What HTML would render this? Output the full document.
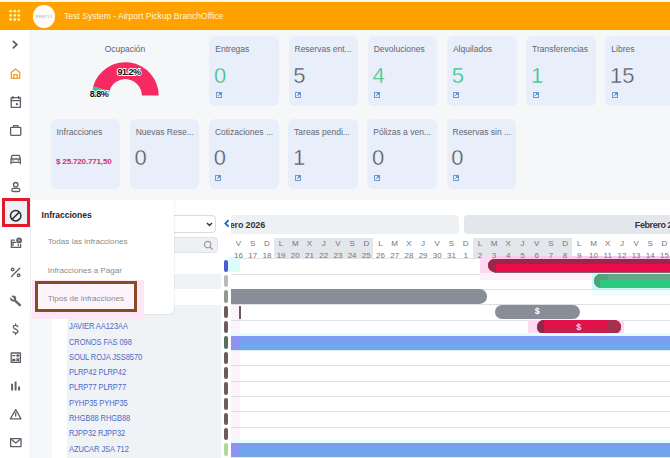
<!DOCTYPE html><html><head><meta charset="utf-8"><style>
*{margin:0;padding:0;box-sizing:border-box}
html,body{width:670px;height:458px;overflow:hidden;background:#f6f7f9;font-family:"Liberation Sans",sans-serif;position:relative}
.a{position:absolute}
.card{position:absolute;width:69.8px;height:70.3px;background:#e8eefa;border-radius:6px}
.ct{position:absolute;left:6px;top:8px;font-size:8.5px;color:#63686f;white-space:nowrap}
.cn{position:absolute;left:4.8px;top:27.6px;font-size:22px;color:#50555d;line-height:24px;-webkit-text-stroke:0.4px #e8eefa;paint-order:normal}
.cn.g{color:#2fc17a}
.ci{position:absolute;left:6.5px;top:56.2px;width:6px;height:6px}
.dl{position:absolute;width:14.2px;text-align:center;font-size:8px;color:#72767c;line-height:9px;z-index:5}
.row{position:absolute;left:231px;width:439px;height:1px;background:#dedfe2}
.nm{position:absolute;left:69px;font-size:9px;color:#4d68c8;white-space:nowrap;letter-spacing:-0.1px;transform:scaleX(0.835);transform-origin:0 0}
.pill{position:absolute;left:223.8px;width:4px;height:12.4px;border-radius:2px}
.si{position:absolute;left:0;width:30px;height:22px}
</style></head><body>
<div class="a" style="left:0;top:0;width:670px;height:2px;background:#fdf7e6"></div>
<div class="a" style="left:0;top:2px;width:670px;height:28px;background:#ffa200"></div>
<svg class="a" style="left:0;top:0" width="30" height="30"><circle cx="10.6" cy="11.2" r="1.4" fill="#ffefa6"/><circle cx="10.6" cy="15.4" r="1.4" fill="#ffefa6"/><circle cx="10.6" cy="19.5" r="1.4" fill="#ffefa6"/><circle cx="14.8" cy="11.2" r="1.4" fill="#ffefa6"/><circle cx="14.8" cy="15.4" r="1.4" fill="#ffefa6"/><circle cx="14.8" cy="19.5" r="1.4" fill="#ffefa6"/><circle cx="18.8" cy="11.2" r="1.4" fill="#ffefa6"/><circle cx="18.8" cy="15.4" r="1.4" fill="#ffefa6"/><circle cx="18.8" cy="19.5" r="1.4" fill="#ffefa6"/></svg>
<div class="a" style="left:32.7px;top:4.9px;width:22.8px;height:22.8px;border-radius:50%;background:#fffdf8"></div>
<div class="a" style="left:35px;top:14.5px;width:19px;font-size:3.4px;letter-spacing:0.75px;color:#9893b3;text-align:center">RENTLY</div>
<div class="a" style="left:64px;top:11px;font-size:8.6px;color:#fff4dc;white-space:nowrap;line-height:10px">Test System - Airport Pickup BranchOffice</div>
<div class="a" style="left:0;top:30px;width:31px;height:428px;background:#fff;border-right:1px solid #eeeff3"></div>
<div class="a" style="left:50px;top:43.5px;width:150px;text-align:center;font-size:8.5px;color:#5f646b;line-height:10px">Ocupación</div>
<svg class="a" style="left:0;top:0" width="670" height="200"><path d="M91.90 95.60 A33.4 33.4 0 0 1 93.17 86.48 L109.43 91.10 A16.5 16.5 0 0 0 108.80 95.60Z" fill="#2ec99a"/><path d="M93.17 86.48 A33.4 33.4 0 0 1 158.70 95.60 L141.80 95.60 A16.5 16.5 0 0 0 109.43 91.10Z" fill="#f52a63"/><g font-family="Liberation Sans" font-weight="bold" font-size="9" stroke="#fff" stroke-width="1.8" paint-order="stroke" fill="#111" letter-spacing="-0.5" text-anchor="middle"><text x="129" y="74.6">91.2%</text><text x="99" y="96.8">8.8%</text></g></svg>
<div class="card" style="left:209.3px;top:36px"><div class="ct">Entregas</div><div class="cn g">0</div><svg class="ci" viewBox="0 0 6 6"><rect x="0" y="0" width="6" height="6" fill="#6f9ad2"/><rect x="1" y="1" width="4" height="4" fill="#e3ecf8"/><path d="M2.2 3.8 L4.6 1.4 M3 1.2 H4.8 V3" stroke="#4d86cf" stroke-width="1" fill="none"/></svg></div>
<div class="card" style="left:288.5px;top:36px"><div class="ct">Reservas ent...</div><div class="cn">5</div><svg class="ci" viewBox="0 0 6 6"><rect x="0" y="0" width="6" height="6" fill="#6f9ad2"/><rect x="1" y="1" width="4" height="4" fill="#e3ecf8"/><path d="M2.2 3.8 L4.6 1.4 M3 1.2 H4.8 V3" stroke="#4d86cf" stroke-width="1" fill="none"/></svg></div>
<div class="card" style="left:367.7px;top:36px"><div class="ct">Devoluciones</div><div class="cn g">4</div><svg class="ci" viewBox="0 0 6 6"><rect x="0" y="0" width="6" height="6" fill="#6f9ad2"/><rect x="1" y="1" width="4" height="4" fill="#e3ecf8"/><path d="M2.2 3.8 L4.6 1.4 M3 1.2 H4.8 V3" stroke="#4d86cf" stroke-width="1" fill="none"/></svg></div>
<div class="card" style="left:446.9px;top:36px"><div class="ct">Alquilados</div><div class="cn g">5</div><svg class="ci" viewBox="0 0 6 6"><rect x="0" y="0" width="6" height="6" fill="#6f9ad2"/><rect x="1" y="1" width="4" height="4" fill="#e3ecf8"/><path d="M2.2 3.8 L4.6 1.4 M3 1.2 H4.8 V3" stroke="#4d86cf" stroke-width="1" fill="none"/></svg></div>
<div class="card" style="left:526.1px;top:36px"><div class="ct">Transferencias</div><div class="cn g">1</div><svg class="ci" viewBox="0 0 6 6"><rect x="0" y="0" width="6" height="6" fill="#6f9ad2"/><rect x="1" y="1" width="4" height="4" fill="#e3ecf8"/><path d="M2.2 3.8 L4.6 1.4 M3 1.2 H4.8 V3" stroke="#4d86cf" stroke-width="1" fill="none"/></svg></div>
<div class="card" style="left:605.3px;top:36px"><div class="ct">Libres</div><div class="cn">15</div><svg class="ci" viewBox="0 0 6 6"><rect x="0" y="0" width="6" height="6" fill="#6f9ad2"/><rect x="1" y="1" width="4" height="4" fill="#e3ecf8"/><path d="M2.2 3.8 L4.6 1.4 M3 1.2 H4.8 V3" stroke="#4d86cf" stroke-width="1" fill="none"/></svg></div>
<div class="card" style="left:50.5px;top:118.5px"><div class="ct">Infracciones</div><div class="a" style="left:5.5px;top:38.5px;font-size:8.1px;font-weight:bold;color:#d3336f;white-space:nowrap;letter-spacing:-0.2px">$ 25.720.771,50</div></div>
<div class="card" style="left:129.7px;top:118.5px"><div class="ct">Nuevas Rese...</div><div class="cn">0</div></div>
<div class="card" style="left:208.9px;top:118.5px"><div class="ct">Cotizaciones ...</div><div class="cn">0</div><svg class="ci" viewBox="0 0 6 6"><rect x="0" y="0" width="6" height="6" fill="#6f9ad2"/><rect x="1" y="1" width="4" height="4" fill="#e3ecf8"/><path d="M2.2 3.8 L4.6 1.4 M3 1.2 H4.8 V3" stroke="#4d86cf" stroke-width="1" fill="none"/></svg></div>
<div class="card" style="left:288.1px;top:118.5px"><div class="ct">Tareas pendi...</div><div class="cn">1</div><svg class="ci" viewBox="0 0 6 6"><rect x="0" y="0" width="6" height="6" fill="#6f9ad2"/><rect x="1" y="1" width="4" height="4" fill="#e3ecf8"/><path d="M2.2 3.8 L4.6 1.4 M3 1.2 H4.8 V3" stroke="#4d86cf" stroke-width="1" fill="none"/></svg></div>
<div class="card" style="left:367.3px;top:118.5px"><div class="ct">Pólizas a ven...</div><div class="cn">0</div><svg class="ci" viewBox="0 0 6 6"><rect x="0" y="0" width="6" height="6" fill="#6f9ad2"/><rect x="1" y="1" width="4" height="4" fill="#e3ecf8"/><path d="M2.2 3.8 L4.6 1.4 M3 1.2 H4.8 V3" stroke="#4d86cf" stroke-width="1" fill="none"/></svg></div>
<div class="card" style="left:446.5px;top:118.5px"><div class="ct">Reservas sin ...</div><div class="cn">0</div><svg class="ci" viewBox="0 0 6 6"><rect x="0" y="0" width="6" height="6" fill="#6f9ad2"/><rect x="1" y="1" width="4" height="4" fill="#e3ecf8"/><path d="M2.2 3.8 L4.6 1.4 M3 1.2 H4.8 V3" stroke="#4d86cf" stroke-width="1" fill="none"/></svg></div>
<div class="a" style="left:52px;top:199.5px;width:618px;height:259px;background:#fff"></div>
<div class="a" style="left:66.5px;top:274.1px;width:154px;height:15.3px;background:#f0f3f6"></div>
<div class="a" style="left:66.5px;top:304.7px;width:154px;height:153.3px;background:#f0f3f6"></div>
<div class="a" style="left:120px;top:215.4px;width:95.5px;height:18px;border:1px solid #d9dce0;border-radius:4px;background:#fff"></div>
<svg class="a" style="left:206px;top:221px" width="7" height="7" viewBox="0 0 7 7"><path d="M1 2 L3.5 4.6 L6 2" stroke="#333" stroke-width="1.4" fill="none"/></svg>
<div class="a" style="left:120px;top:236.7px;width:97.5px;height:16.6px;border:1px solid #dfe2e6;border-radius:4px;background:#eef0f3"></div>
<svg class="a" style="left:203px;top:240px" width="11" height="11" viewBox="0 0 11 11"><circle cx="4.6" cy="4.6" r="3.2" stroke="#9a9ea4" stroke-width="1.2" fill="none"/><path d="M7 7 L9.6 9.6" stroke="#9a9ea4" stroke-width="1.4"/></svg>
<svg class="a" style="left:222.5px;top:219px" width="8" height="9" viewBox="0 0 8 9"><path d="M5.6 1.2 L2.4 4.4 L5.6 7.6" stroke="#1b68cc" stroke-width="1.9" fill="none"/></svg>
<div class="a" style="left:231px;top:215px;width:227.6px;height:19px;background:#eef1f4;border-radius:0 4px 4px 0;overflow:hidden"><div class="a" style="left:-12.5px;top:4.8px;font-size:9px;font-weight:bold;color:#33363b;white-space:nowrap;line-height:10px;letter-spacing:-0.15px">Enero 2026</div></div>
<div class="a" style="left:464.3px;top:214.8px;width:210px;height:19.3px;background:#e3e6eb;border-radius:4px;overflow:hidden"><div class="a" style="left:170.5px;top:5.5px;font-size:9px;font-weight:bold;color:#33363b;white-space:nowrap;line-height:10px;letter-spacing:-0.4px">Febrero 2026</div></div>
<div class="a" style="left:274.0px;top:238px;width:99.4px;height:20.8px;background:#e3e6eb"></div>
<div class="a" style="left:472.8px;top:238px;width:99.4px;height:20.8px;background:#e3e6eb"></div>
<div class="dl" style="left:231.4px;top:239px">V</div>
<div class="dl" style="left:231.4px;top:250.5px">16</div>
<div class="dl" style="left:245.6px;top:239px">S</div>
<div class="dl" style="left:245.6px;top:250.5px">17</div>
<div class="dl" style="left:259.8px;top:239px">D</div>
<div class="dl" style="left:259.8px;top:250.5px">18</div>
<div class="dl" style="left:274.0px;top:239px">L</div>
<div class="dl" style="left:274.0px;top:250.5px">19</div>
<div class="dl" style="left:288.2px;top:239px">M</div>
<div class="dl" style="left:288.2px;top:250.5px">20</div>
<div class="dl" style="left:302.4px;top:239px">X</div>
<div class="dl" style="left:302.4px;top:250.5px">21</div>
<div class="dl" style="left:316.6px;top:239px">J</div>
<div class="dl" style="left:316.6px;top:250.5px">22</div>
<div class="dl" style="left:330.8px;top:239px">V</div>
<div class="dl" style="left:330.8px;top:250.5px">23</div>
<div class="dl" style="left:345.0px;top:239px">S</div>
<div class="dl" style="left:345.0px;top:250.5px">24</div>
<div class="dl" style="left:359.2px;top:239px">D</div>
<div class="dl" style="left:359.2px;top:250.5px">25</div>
<div class="dl" style="left:373.4px;top:239px">L</div>
<div class="dl" style="left:373.4px;top:250.5px">26</div>
<div class="dl" style="left:387.6px;top:239px">M</div>
<div class="dl" style="left:387.6px;top:250.5px">27</div>
<div class="dl" style="left:401.8px;top:239px">X</div>
<div class="dl" style="left:401.8px;top:250.5px">28</div>
<div class="dl" style="left:416.0px;top:239px">J</div>
<div class="dl" style="left:416.0px;top:250.5px">29</div>
<div class="dl" style="left:430.2px;top:239px">V</div>
<div class="dl" style="left:430.2px;top:250.5px">30</div>
<div class="dl" style="left:444.4px;top:239px">S</div>
<div class="dl" style="left:444.4px;top:250.5px">31</div>
<div class="dl" style="left:458.6px;top:239px">D</div>
<div class="dl" style="left:458.6px;top:250.5px">1</div>
<div class="dl" style="left:472.8px;top:239px">L</div>
<div class="dl" style="left:472.8px;top:250.5px">2</div>
<div class="dl" style="left:487.0px;top:239px">M</div>
<div class="dl" style="left:487.0px;top:250.5px">3</div>
<div class="dl" style="left:501.2px;top:239px">X</div>
<div class="dl" style="left:501.2px;top:250.5px">4</div>
<div class="dl" style="left:515.4px;top:239px">J</div>
<div class="dl" style="left:515.4px;top:250.5px">5</div>
<div class="dl" style="left:529.6px;top:239px">V</div>
<div class="dl" style="left:529.6px;top:250.5px">6</div>
<div class="dl" style="left:543.8px;top:239px">S</div>
<div class="dl" style="left:543.8px;top:250.5px">7</div>
<div class="dl" style="left:558.0px;top:239px">D</div>
<div class="dl" style="left:558.0px;top:250.5px">8</div>
<div class="dl" style="left:572.2px;top:239px">L</div>
<div class="dl" style="left:572.2px;top:250.5px">9</div>
<div class="dl" style="left:586.4px;top:239px">M</div>
<div class="dl" style="left:586.4px;top:250.5px">10</div>
<div class="dl" style="left:600.6px;top:239px">X</div>
<div class="dl" style="left:600.6px;top:250.5px">11</div>
<div class="dl" style="left:614.8px;top:239px">J</div>
<div class="dl" style="left:614.8px;top:250.5px">12</div>
<div class="dl" style="left:629.0px;top:239px">V</div>
<div class="dl" style="left:629.0px;top:250.5px">13</div>
<div class="dl" style="left:643.2px;top:239px">S</div>
<div class="dl" style="left:643.2px;top:250.5px">14</div>
<div class="dl" style="left:657.4px;top:239px">D</div>
<div class="dl" style="left:657.4px;top:250.5px">15</div>
<div class="row" style="top:258.3px;background:#e2e3e6"></div>
<div class="a" style="left:228px;top:257px;width:12px;height:15.3px;background:#dcfbfb"></div>
<div class="a" style="left:231px;top:304.7px;width:9px;height:15.3px;background:#fdf4fb"></div>
<div class="a" style="left:231px;top:320.0px;width:9px;height:15.3px;background:#fdf4fb"></div>
<div class="a" style="left:231px;top:350.6px;width:9px;height:15.3px;background:#fdf4fb"></div>
<div class="a" style="left:231px;top:365.9px;width:9px;height:15.3px;background:#fdf4fb"></div>
<div class="a" style="left:231px;top:381.2px;width:9px;height:15.3px;background:#fdf4fb"></div>
<div class="a" style="left:231px;top:396.5px;width:9px;height:15.3px;background:#fdf4fb"></div>
<div class="a" style="left:231px;top:411.8px;width:9px;height:15.3px;background:#fdf4fb"></div>
<div class="a" style="left:231px;top:427.1px;width:9px;height:15.3px;background:#fdf4fb"></div>
<div class="row" style="top:273.6px"></div>
<div class="row" style="top:288.9px"></div>
<div class="row" style="top:304.2px"></div>
<div class="row" style="top:319.5px"></div>
<div class="row" style="top:334.8px"></div>
<div class="row" style="top:350.1px"></div>
<div class="row" style="top:365.4px"></div>
<div class="row" style="top:380.7px"></div>
<div class="row" style="top:396.0px"></div>
<div class="row" style="top:411.3px"></div>
<div class="row" style="top:426.6px"></div>
<div class="row" style="top:441.9px"></div>
<div class="a" style="left:480px;top:256px;width:190px;height:17px;background:#fcdaf2"></div>
<div class="a" style="left:495.7px;top:256px;width:180px;height:3px;background:#fcc9ee"></div>
<div class="a" style="left:480px;top:273px;width:112px;height:7px;background:#fdf0f8"></div>
<div class="a" style="left:487.7px;top:259px;width:200px;height:13.2px;border-radius:7px;background:#e90d4c;overflow:hidden"><div class="a" style="left:0;top:0;width:200px;height:4.8px;background:#9c2649"></div><div class="a" style="left:0;top:0;width:8px;height:14px;background:#962a4a"></div></div>
<div class="a" style="left:592px;top:272.5px;width:80px;height:16px;background:#d2f9f4"></div>
<div class="a" style="left:592px;top:289.5px;width:80px;height:6px;background:#f2fefe"></div>
<div class="a" style="left:494px;top:272.1px;width:200px;height:0.8px;background:#8a6070"></div>
<div class="a" style="left:593.9px;top:273.7px;width:100px;height:14.4px;border-radius:7px;background:#2cca7e;overflow:hidden"><div class="a" style="left:0;top:0;width:100px;height:6px;background:#62a886"></div><div class="a" style="left:0;top:0;width:14px;height:6px;background:#5a9e7e"></div><div class="a" style="left:0;top:0;width:6px;height:15px;background:#52a07a"></div></div>
<div class="a" style="left:231px;top:289.3px;width:256.3px;height:14.6px;border-radius:0 7.3px 7.3px 0;background:#898d98"></div>
<div class="a" style="left:239.4px;top:305.7px;width:1.8px;height:13px;background:#6b5a60"></div>
<div class="a" style="left:494.6px;top:305px;width:85.4px;height:13.8px;border-radius:7px;background:#898d98;color:#fff;font-size:9px;font-weight:bold;text-align:center;line-height:13.8px">$</div>
<div class="a" style="left:528px;top:320px;width:96.3px;height:15px;background:#fddcf3"></div>
<div class="a" style="left:536.8px;top:320.3px;width:83.8px;height:14px;border-radius:7px;background:#c91f48;overflow:hidden"><div class="a" style="left:0;top:0;width:84px;height:7px;background:#e3104b"></div><div class="a" style="left:0;top:0;width:7px;height:14px;background:#8f2a48"></div><div class="a" style="left:71px;top:0;width:13px;height:14px;background:#a8304f"></div><div class="a" style="left:0;top:0;width:84px;height:14px;color:#ffd9ec;font-size:9px;font-weight:bold;text-align:center;line-height:14px">$</div></div>
<div class="a" style="left:231px;top:332.8px;width:439px;height:3px;background:#e2fdfd"></div>
<div class="a" style="left:231px;top:335.6px;width:439px;height:14.4px;background:#73a5ee"></div>
<div class="a" style="left:231px;top:335.6px;width:439px;height:5px;background:#7c9ef0"></div>
<div class="a" style="left:231px;top:335.6px;width:9px;height:14.4px;background:#8e93f2"></div>
<div class="a" style="left:231px;top:350.0px;width:439px;height:1px;background:#d8f0fa"></div>
<div class="a" style="left:231px;top:439.9px;width:439px;height:3px;background:#e2fdfd"></div>
<div class="a" style="left:231px;top:442.7px;width:439px;height:14.4px;background:#73a5ee"></div>
<div class="a" style="left:231px;top:442.7px;width:439px;height:5px;background:#7c9ef0"></div>
<div class="a" style="left:231px;top:442.7px;width:9px;height:14.4px;background:#8e93f2"></div>
<div class="a" style="left:231px;top:457.1px;width:439px;height:1px;background:#d8f0fa"></div>
<div class="pill" style="top:259.8px;background:#4c5bd1"></div>
<div class="pill" style="top:275.1px;background:#b9b9bb"></div>
<div class="pill" style="top:290.4px;background:#8e9c8e"></div>
<div class="pill" style="top:305.7px;background:#6d5b60"></div>
<div class="pill" style="top:321.0px;background:#6d5b60"></div>
<div class="pill" style="top:336.3px;background:#55705b"></div>
<div class="pill" style="top:351.6px;background:#6d5b60"></div>
<div class="pill" style="top:366.9px;background:#6d5b60"></div>
<div class="pill" style="top:382.2px;background:#6d5b60"></div>
<div class="pill" style="top:397.5px;background:#6d5b60"></div>
<div class="pill" style="top:412.8px;background:#6d5b60"></div>
<div class="pill" style="top:428.1px;background:#6d5b60"></div>
<div class="pill" style="top:443.4px;background:#b1d89a"></div>
<div class="nm" style="top:322.2px;line-height:9px">JAVIER AA123AA</div>
<div class="nm" style="top:337.5px;line-height:9px">CRONOS FAS 098</div>
<div class="nm" style="top:352.8px;line-height:9px">SOUL ROJA JSS8570</div>
<div class="nm" style="top:368.1px;line-height:9px">PLRP42 PLRP42</div>
<div class="nm" style="top:383.4px;line-height:9px">PLRP77 PLRP77</div>
<div class="nm" style="top:398.7px;line-height:9px">PYHP35 PYHP35</div>
<div class="nm" style="top:414.0px;line-height:9px">RHGB88 RHGB88</div>
<div class="nm" style="top:429.3px;line-height:9px">RJPP32 RJPP32</div>
<div class="nm" style="top:444.6px;line-height:9px">AZUCAR JSA 712</div>
<div class="a" style="left:31px;top:199.5px;width:143px;height:114.8px;background:#fff;border-radius:0 0 5px 0;box-shadow:0.5px 0.5px 1px rgba(0,0,0,0.05)"></div>
<div class="a" style="left:41.6px;top:209.9px;font-size:8.5px;font-weight:bold;color:#24272b;white-space:nowrap;line-height:10px">Infracciones</div>
<div class="a" style="left:47.8px;top:237px;font-size:8.1px;color:#888b90;white-space:nowrap;line-height:10px">Todas las infracciones</div>
<div class="a" style="left:47.8px;top:265.5px;font-size:8.1px;color:#888b90;white-space:nowrap;line-height:10px">Infracciones a Pagar</div>
<div class="a" style="left:31.7px;top:279.6px;width:112.3px;height:39px;background:#fde6f5"></div>
<div class="a" style="left:35px;top:281.3px;width:101.7px;height:31px;border:3px solid #874a22"></div>
<div class="a" style="left:38px;top:284.3px;width:95.7px;height:25px;background:#fdf3fb"></div>
<div class="a" style="left:47.8px;top:294px;font-size:8.1px;color:#888b90;white-space:nowrap;line-height:10px">Tipos de infracciones</div>
<div class="a" style="left:1.8px;top:198.4px;width:28px;height:29px;border:3px solid #e01a2b;background:#eef0f3"></div>
<svg class="a" style="left:0;top:0" width="31" height="458"><path d="M13.3 41.3 L16.9 44.6 L13.3 47.9" stroke="#555" fill="none" stroke-width="1.6" stroke-linecap="round" stroke-linejoin="round"/><path d="M11.3 78.3 V72.2 L15.5 68.9 L19.7 72.2 V78.3 Z M13.8 78.3 V74.6 H17.2 V78.3" stroke="#f0a030" fill="none" stroke-width="1.3" stroke-linejoin="round"/><rect x="11.2" y="97.7" width="9.2" height="9.6" stroke="#5b5f66" fill="none" stroke-width="1.3" stroke-linecap="round" stroke-linejoin="round"/><path d="M11.2 100.6 H20.4 M13 96.3 V98.5 M18.6 96.3 V98.5" stroke="#5b5f66" fill="none" stroke-width="1.3" stroke-linecap="round" stroke-linejoin="round"/><circle cx="16.9" cy="104.2" r="1.1" fill="#565a60"/><rect x="10.6" y="127.3" width="10.2" height="8" rx="0.8" stroke="#5b5f66" fill="none" stroke-width="1.3" stroke-linecap="round" stroke-linejoin="round"/><path d="M13.6 127.3 V125.6 H17.8 V127.3" stroke="#5b5f66" fill="none" stroke-width="1.3" stroke-linecap="round" stroke-linejoin="round"/><path d="M11 163.7 V159 L12.2 155.3 H19.2 L20.4 159 V163.7 M11 159 H20.4 M11 162.3 H20.4" stroke="#5b5f66" fill="none" stroke-width="1.3" stroke-linecap="round" stroke-linejoin="round"/><circle cx="13.2" cy="160.6" r="0.7" fill="#565a60"/><circle cx="18.2" cy="160.6" r="0.7" fill="#565a60"/><circle cx="15.7" cy="184.7" r="2.2" stroke="#5b5f66" fill="none" stroke-width="1.3" stroke-linecap="round" stroke-linejoin="round"/><rect x="11.8" y="188.3" width="8" height="3.2" rx="1.6" stroke="#5b5f66" fill="none" stroke-width="1.3" stroke-linecap="round" stroke-linejoin="round"/><circle cx="15.7" cy="215.7" r="5.2" stroke="#2b2d31" fill="none" stroke-width="1.5"/><path d="M12.1 219.3 L19.3 212.1" stroke="#2b2d31" stroke-width="1.5"/><path d="M11.2 247.3 H20.8 M11.4 247.3 V240.2 H14.4 M11.4 242.4 H15.8 M13 243.5 V245.5 M18.3 244.4 V245.6 M20.6 244.6 V247.3" stroke="#5b5f66" fill="none" stroke-width="1.3" stroke-linecap="round" stroke-linejoin="round"/><circle cx="19.1" cy="240.4" r="2.1" stroke="#565a60" fill="#9a9ca0" stroke-width="1.5"/><path d="M11.5 276.5 L19.7 268.3" stroke="#5b5f66" fill="none" stroke-width="1.3" stroke-linecap="round" stroke-linejoin="round" stroke-width="1.4"/><circle cx="12.6" cy="269.4" r="1.3" stroke="#5b5f66" fill="none" stroke-width="1.3" stroke-linecap="round" stroke-linejoin="round"/><circle cx="18.6" cy="275.3" r="1.3" stroke="#5b5f66" fill="none" stroke-width="1.3" stroke-linecap="round" stroke-linejoin="round"/><path d="M14.8 300.3 L19.9 305.2" stroke="#64686e" stroke-width="2.4" stroke-linecap="round"/><circle cx="13.2" cy="298.6" r="3" fill="#64686e"/><path d="M10.6 296.4 L13.3 299" stroke="#fff" stroke-width="1.6" stroke-linecap="round"/><path d="M17.8 326.6 C17.3 325.6 16.4 325.3 15.6 325.3 C14.3 325.3 13.3 326 13.3 327.1 C13.3 329.6 18 328.5 18 331.2 C18 332.4 16.9 333 15.6 333 C14.5 333 13.6 332.6 13.1 331.7 M15.6 324 V325.3 M15.6 333 V334.4" stroke="#5b5f66" fill="none" stroke-width="1.3" stroke-linecap="round" stroke-linejoin="round" stroke-width="1.4"/><rect x="11.2" y="353" width="9.2" height="9.4" stroke="#5b5f66" fill="none" stroke-width="1.3" stroke-linecap="round" stroke-linejoin="round"/><path d="M12.7 355.7 H14.9 M16.6 355.7 H19 M17.8 354.5 V356.9 M12.7 359.3 H14.9 M12.7 360.5 H14.9 M16.7 358.7 L18.9 360.9 M18.9 358.7 L16.7 360.9" stroke="#5b5f66" fill="none" stroke-width="1.3" stroke-linecap="round" stroke-linejoin="round" stroke-width="0.9"/><path d="M12.1 390.6 V383.8 M15.6 390.6 V381.6 M19.1 390.6 V386.6" stroke="#5a5e64" stroke-width="1.9"/><path d="M15.7 409.6 L21 418.8 H10.4 Z M15.7 413 V416" stroke="#5b5f66" fill="none" stroke-width="1.3" stroke-linecap="round" stroke-linejoin="round" stroke-width="1.2"/><rect x="10.6" y="438.6" width="10.4" height="8" stroke="#5b5f66" fill="none" stroke-width="1.3" stroke-linecap="round" stroke-linejoin="round"/><path d="M11.6 439.6 L15.8 443 L20 439.6" stroke="#5b5f66" fill="none" stroke-width="1.3" stroke-linecap="round" stroke-linejoin="round" stroke-width="1.1"/></svg>
</body></html>
